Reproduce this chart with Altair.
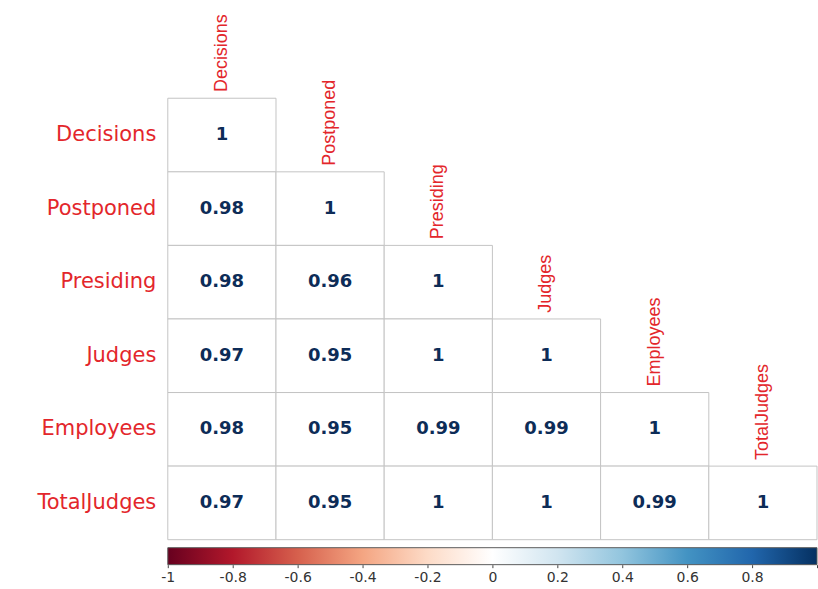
import altair as alt
import pandas as pd

# Variables of the correlation matrix (row / column order)
variables = ["Decisions", "Postponed", "Presiding", "Judges", "Employees", "TotalJudges"]

# Lower triangle of the correlation matrix, row by row
corr_rows = [
    [1],
    [0.98, 1],
    [0.98, 0.96, 1],
    [0.97, 0.95, 1, 1],
    [0.98, 0.95, 0.99, 0.99, 1],
    [0.97, 0.95, 1, 1, 0.99, 1],
]

# Colour bar tick values
bar_ticks = [-1, -0.8, -0.6, -0.4, -0.2, 0, 0.2, 0.4, 0.6, 0.8, 1]

# RdBu palette used for the colour bar, from -1 to 1
rdbu = ["#67001F", "#B2182B", "#D6604D", "#F4A582", "#FDDBC7", "#FFFFFF",
        "#D1E5F0", "#92C5DE", "#4393C3", "#2166AC", "#053061"]

LABEL_RED = "#e3262b"
NUM_NAVY = "#0d2c57"
GRID = "#c4c4c4"

cells = pd.DataFrame([
    {"row": variables[i], "col": variables[j], "r": v}
    for i, row in enumerate(corr_rows)
    for j, v in enumerate(row)
])
diag = cells[cells["row"] == cells["col"]]

band = alt.Scale(paddingInner=0, paddingOuter=0)
x_enc = alt.X("col:N", sort=variables, scale=band, axis=None)
y_enc = alt.Y(
    "row:N", sort=variables, scale=band,
    axis=alt.Axis(title=None, ticks=False, domain=False, grid=False,
                  labelColor=LABEL_RED, labelFont="DejaVu Sans",
                  labelFontSize=21, labelPadding=12, labelLimit=0),
)

boxes = alt.Chart(cells).mark_rect(
    fill="white", stroke=GRID, strokeWidth=1
).encode(x=x_enc, y=y_enc)

numbers = alt.Chart(cells).mark_text(
    font="DejaVu Sans", fontWeight="bold", fontSize=18, color=NUM_NAVY
).encode(x=x_enc, y=y_enc, text=alt.Text("r:Q", format=".2~f"))

# Column names written vertically above each diagonal cell
col_heads = alt.Chart(diag).mark_text(
    angle=270, align="left", baseline="middle", yOffset=-43,
    font="Liberation Sans", fontSize=18, color=LABEL_RED
).encode(x=x_enc, y=y_enc, text="col:N")

heat = alt.layer(boxes, numbers, col_heads).properties(width=650, height=442)

# Horizontal colour bar
gradient = alt.Gradient(
    gradient="linear", x1=0, x2=1, y1=0, y2=0,
    stops=[alt.GradientStop(color=c, offset=k / (len(rdbu) - 1)) for k, c in enumerate(rdbu)],
)
bar = alt.Chart(pd.DataFrame({"lo": [bar_ticks[0]], "hi": [bar_ticks[-1]]})).mark_rect(
    fill=gradient, stroke="#5a5a5a", strokeWidth=1
).encode(
    x=alt.X("lo:Q", scale=alt.Scale(domain=[-1, 1], nice=False, zero=False),
            axis=alt.Axis(values=bar_ticks, title=None, grid=False, domain=False,
                          tickSize=3, tickColor="#444", labelFont="DejaVu Sans",
                          labelFontSize=14, labelColor="#333", labelPadding=3,
                          labelFlush=False, labelOverlap=False,
                          labelExpr="datum.value >= 1 ? '' : (datum.value < 0 ? '-' : '') + format(abs(datum.value), '~g')")),
    x2="hi:Q",
).properties(width=650, height=17)

chart = alt.vconcat(heat, bar, spacing=8, bounds="flush").properties(
    padding={"left": 36, "top": 13, "right": 0, "bottom": 0},
    background="white",
).configure_view(stroke=None)

chart.save("out.html", embed_options={"renderer": "svg", "actions": False})
